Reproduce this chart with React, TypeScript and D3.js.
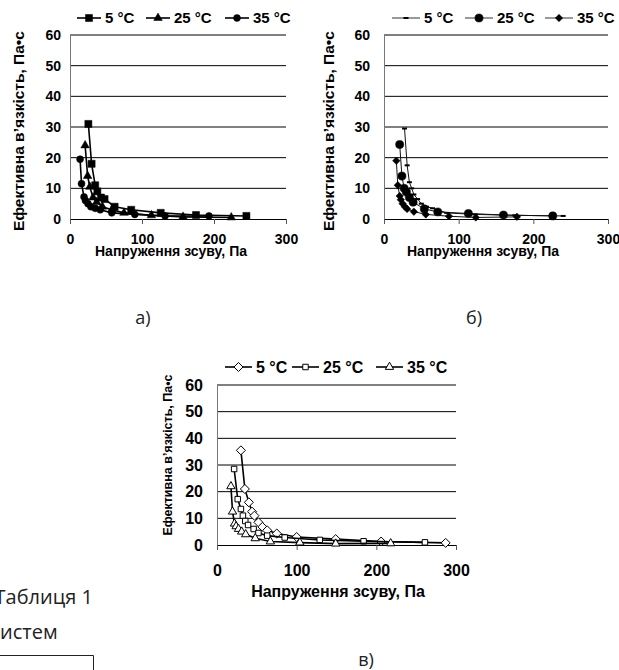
import { useEffect, useRef } from "react";
import * as d3 from "d3";

// shared axis values and labels
const xTicks = [0, 100, 200, 300];
const yTicks = [0, 10, 20, 30, 40, 50, 60];
const seriesLabels = ["5 °C", "25 °C", "35 °C"];
const xTitle = "Напруження зсуву, Па";
const yTitle = "Ефективна в’язкість, Па•с";
const panelLetters = ["а)", "б)", "в)"];

// panel а) — shear stress (Pa) and effective viscosity (Pa·s)
const aStress5 = [25.5, 30, 35, 38, 43, 48, 62, 85, 126, 175, 245];
const aVisc5 = [31, 18, 11, 9, 7, 6.5, 4, 3, 2, 1.3, 1];
const aStress25 = [21, 24.5, 27.5, 32, 37, 45, 58, 75, 113, 157, 224];
const aVisc25 = [24, 14, 10.5, 7, 5.5, 4, 3, 2, 1.2, 0.7, 0.5];
const aStress35 = [14, 16, 19.5, 21.5, 25, 29, 35, 42, 58, 90, 132, 193];
const aVisc35 = [19.5, 11.5, 7.2, 6, 5, 4, 3.5, 3, 2, 1.5, 1, 1];

// panel б)
const bStress5 = [27.5, 31, 34, 37, 40, 45, 50, 57, 65, 84, 122, 175, 240];
const bVisc5 = [29.5, 17.5, 12, 10, 8, 6.5, 5, 4, 3.5, 2, 1.5, 1.2, 1];
const bStress25 = [21, 24, 27, 30, 34, 39, 54, 72, 113, 160, 226];
const bVisc25 = [24.3, 14, 10, 8.8, 7, 5.5, 3.3, 2.3, 1.8, 1.3, 1];
const bStress35 = [16.5, 18.5, 21, 22.5, 25, 28, 31, 40, 56, 87, 123, 178];
const bVisc35 = [19, 11, 7.5, 6.3, 5, 4, 3.3, 2.4, 1.5, 0.9, 0.5, 0.7];

// panel в)
const cStress5 = [30, 35, 40, 44, 47, 52, 57, 63, 75, 100, 149, 206, 287];
const cVisc5 = [35.5, 21, 16, 12.5, 11, 8.5, 6.8, 5.5, 4.3, 3, 2.2, 1.3, 0.8];
const cStress25 = [21.5, 26, 30, 32.5, 35.5, 39, 46, 52, 63, 85, 129, 184, 261];
const cVisc25 = [28.5, 17.2, 13.5, 11, 9, 7.5, 6, 4.5, 3.5, 2.8, 1.9, 1.4, 1];
const cStress35 = [17.5, 19.5, 22, 24, 27, 31, 36, 48, 67, 104, 149, 218];
const cVisc35 = [22, 12.5, 8, 7, 6, 5, 4, 2.5, 1.3, 0.9, 0.5, 0.6];

const FONT = "'Liberation Sans', Arial, sans-serif";
const PAGE_FONT = "'Open Sans', 'Noto Sans', sans-serif";

type Marker = { type: string; size: number; fill: string };

// layout of each of the three small charts
const panels = [
  {
    left: 70, right: 286, top: 35, bottom: 219,
    tickFont: 14, yPad: 9, xPad: 10,
    yTitleX: 18, yTitleY: 131, yTitleFont: 15.5,
    xTitleX: 171, xTitleY: 256, xTitleFont: 14,
    legendY: 18, legendX: [77, 146, 225], legendLine: 24, legendFont: 15,
    letterX: 143, letterY: 324,
    lineWidth: 1.6, lineColor: "#000",
    markers: [
      { type: "square", size: 50, fill: "#000" },
      { type: "triangle", size: 32, fill: "#000" },
      { type: "circle", size: 38, fill: "#000" },
    ] as Marker[],
    series: [[aStress5, aVisc5], [aStress25, aVisc25], [aStress35, aVisc35]],
  },
  {
    left: 384, right: 608, top: 35, bottom: 219,
    tickFont: 14, yPad: 14, xPad: 10,
    yTitleX: 328, yTitleY: 131, yTitleFont: 15.5,
    xTitleX: 483, xTitleY: 256, xTitleFont: 14,
    legendY: 18, legendX: [392, 465, 545], legendLine: 28, legendFont: 15,
    letterX: 474, letterY: 324,
    lineWidth: 1, lineColor: "#111",
    markers: [
      { type: "dash", size: 5, fill: "#000" },
      { type: "circle", size: 52, fill: "#000" },
      { type: "diamond", size: 36, fill: "#000" },
    ] as Marker[],
    series: [[bStress5, bVisc5], [bStress25, bVisc25], [bStress35, bVisc35]],
  },
  {
    left: 217, right: 456, top: 385, bottom: 545,
    tickFont: 16, yPad: 14, xPad: 15,
    yTitleX: 168, yTitleY: 455, yTitleFont: 12.5,
    xTitleX: 338, xTitleY: 597, xTitleFont: 16,
    legendY: 367, legendX: [225, 292, 376], legendLine: 27, legendFont: 16,
    letterX: 366, letterY: 666,
    lineWidth: 1.6, lineColor: "#000",
    markers: [
      { type: "diamond", size: 52, fill: "#fff" },
      { type: "square", size: 30, fill: "#fff" },
      { type: "triangle", size: 30, fill: "#fff" },
    ] as Marker[],
    series: [[cStress5, cVisc5], [cStress25, cVisc25], [cStress35, cVisc35]],
  },
];

function markerPath(m: Marker) {
  if (m.type === "dash") return `M${-m.size / 2},0H${m.size / 2}`;
  const types: Record<string, d3.SymbolType> = {
    square: d3.symbolSquare,
    triangle: d3.symbolTriangle,
    circle: d3.symbolCircle,
    diamond: d3.symbolDiamond2,
  };
  return d3.symbol().type(types[m.type]).size(m.size)() as string;
}

function drawMarker(parent: any, m: Marker, cx: number, cy: number) {
  const p = parent
    .append("path")
    .attr("d", markerPath(m))
    .attr("transform", `translate(${cx},${cy})`);
  if (m.type === "dash") {
    p.attr("stroke", "#000").attr("stroke-width", 2).attr("fill", "none");
  } else {
    p.attr("fill", m.fill).attr("stroke", "#000").attr("stroke-width", m.fill === "#fff" ? 1 : 0.5);
  }
}

export default function App() {
  const ref = useRef<SVGSVGElement>(null);

  useEffect(() => {
    const svg = d3.select(ref.current);
    svg.selectAll("*").remove();

    panels.forEach((p, pi) => {
      const x = d3.scaleLinear().domain([0, 300]).range([p.left, p.right]);
      const y = d3.scaleLinear().domain([0, 60]).range([p.bottom, p.top]);
      const g = svg.append("g");

      // horizontal gridlines
      g.append("g")
        .selectAll("line")
        .data(yTicks.filter((t) => t > 0))
        .join("line")
        .attr("x1", p.left)
        .attr("x2", p.right)
        .attr("y1", (d) => y(d))
        .attr("y2", (d) => y(d))
        .attr("stroke", "#000")
        .attr("stroke-width", 1);

      // y axis
      const yAxis = g
        .append("g")
        .attr("transform", `translate(${p.left},0)`)
        .call(d3.axisLeft(y).tickValues(yTicks).tickSize(0).tickPadding(p.yPad));
      yAxis.select(".domain").attr("stroke", "#777");
      yAxis
        .selectAll("text")
        .attr("font-family", FONT)
        .attr("font-weight", "bold")
        .attr("font-size", p.tickFont)
        .attr("fill", "#000");

      // x axis
      const xAxis = g
        .append("g")
        .attr("transform", `translate(0,${p.bottom})`)
        .call(d3.axisBottom(x).tickValues(xTicks).tickSize(5).tickSizeOuter(0).tickPadding(p.xPad));
      xAxis.select(".domain").attr("stroke", "#000");
      xAxis.selectAll(".tick line").attr("stroke", "#555");
      xAxis
        .selectAll("text")
        .attr("font-family", FONT)
        .attr("font-weight", "bold")
        .attr("font-size", p.tickFont)
        .attr("fill", "#000");

      // axis titles
      g.append("text")
        .attr("transform", `translate(${p.yTitleX},${p.yTitleY}) rotate(-90)`)
        .attr("text-anchor", "middle")
        .attr("dominant-baseline", "central")
        .attr("font-family", FONT)
        .attr("font-weight", "bold")
        .attr("font-size", p.yTitleFont)
        .text(yTitle);

      g.append("text")
        .attr("x", p.xTitleX)
        .attr("y", p.xTitleY)
        .attr("text-anchor", "middle")
        .attr("font-family", FONT)
        .attr("font-weight", "bold")
        .attr("font-size", p.xTitleFont)
        .text(xTitle);

      // series lines and markers
      p.series.forEach(([xs, ys], si) => {
        const pts = xs.map((v, i) => [x(v), y(ys[i])] as [number, number]);
        g.append("path")
          .attr("d", d3.line()(pts))
          .attr("fill", "none")
          .attr("stroke", p.lineColor)
          .attr("stroke-width", p.lineWidth);
        pts.forEach(([cx, cy]) => drawMarker(g, p.markers[si], cx, cy));
      });

      // legend
      seriesLabels.forEach((label, si) => {
        const lx = p.legendX[si];
        g.append("line")
          .attr("x1", lx)
          .attr("x2", lx + p.legendLine)
          .attr("y1", p.legendY)
          .attr("y2", p.legendY)
          .attr("stroke", pi === 1 ? "#555" : "#000")
          .attr("stroke-width", pi === 1 ? 1.2 : 1.6);
        drawMarker(g, p.markers[si], lx + p.legendLine / 2, p.legendY);
        g.append("text")
          .attr("x", lx + p.legendLine + 4)
          .attr("y", p.legendY)
          .attr("dy", "0.36em")
          .attr("font-family", FONT)
          .attr("font-weight", "bold")
          .attr("font-size", p.legendFont)
          .text(label);
      });

      // panel letter
      svg.append("text")
        .attr("x", p.letterX)
        .attr("y", p.letterY)
        .attr("text-anchor", "middle")
        .attr("font-family", PAGE_FONT)
        .attr("font-size", 18)
        .attr("fill", "#222")
        .text(panelLetters[pi]);
    });

    // fragments of the page's surrounding text
    svg.append("text")
      .attr("x", 93)
      .attr("y", 604)
      .attr("text-anchor", "end")
      .attr("font-family", PAGE_FONT)
      .attr("font-size", 20)
      .attr("fill", "#222")
      .text("Таблиця 1");
    svg.append("text")
      .attr("x", 0)
      .attr("y", 639)
      .attr("font-family", PAGE_FONT)
      .attr("font-size", 20)
      .attr("fill", "#222")
      .text("истем");
    svg.append("path")
      .attr("d", "M0,655.5H93.5V670")
      .attr("fill", "none")
      .attr("stroke", "#222")
      .attr("stroke-width", 1);
  }, []);

  return (
    <svg
      ref={ref}
      width={619}
      height={670}
      style={{ position: "absolute", left: 0, top: 0, background: "#fff" }}
    />
  );
}
